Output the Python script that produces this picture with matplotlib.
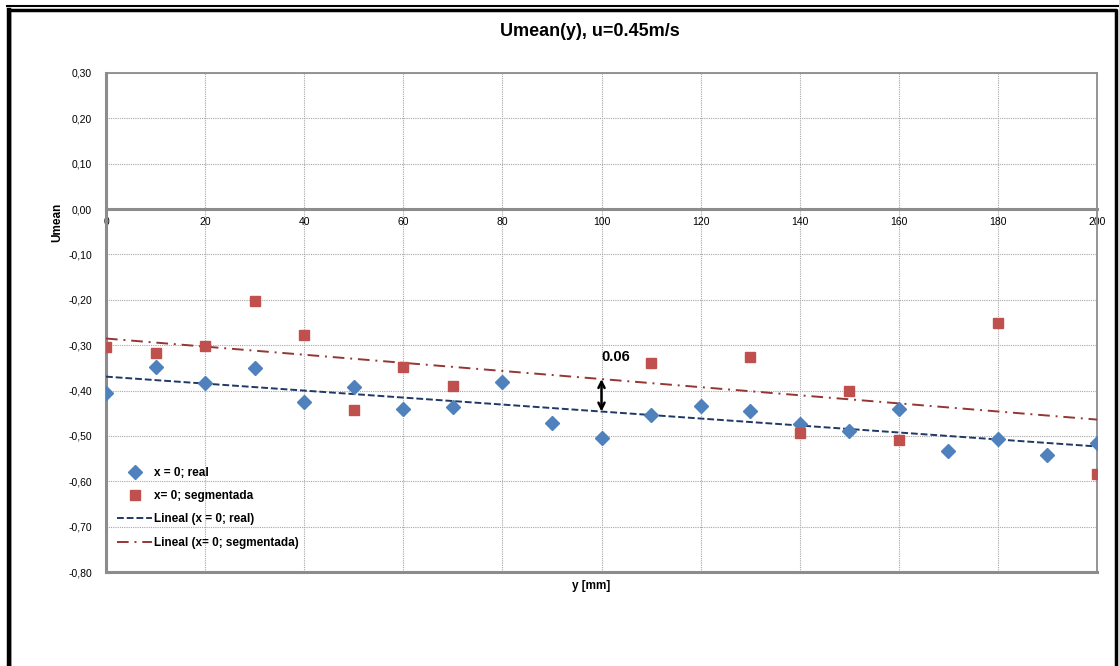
import numpy as np
import matplotlib
matplotlib.use("Agg")
import matplotlib.pyplot as plt
from matplotlib.ticker import FuncFormatter, MultipleLocator
from matplotlib.lines import Line2D

plt.rcParams['font.family'] = ['Liberation Sans Narrow', 'Liberation Sans', 'DejaVu Sans']

# datos
x_real = [0, 10, 20, 30, 40, 50, 60, 70, 80, 90, 100, 110, 120, 130, 140, 150, 160, 170, 180, 190, 200]
u_real = [-0.405, -0.349, -0.384, -0.351, -0.426, -0.392, -0.440, -0.436, -0.382, -0.471, -0.504,
          -0.453, -0.433, -0.444, -0.473, -0.490, -0.440, -0.534, -0.506, -0.543, -0.516]
x_seg = [0, 10, 20, 30, 40, 50, 60, 70, 110, 130, 140, 150, 160, 180, 200]
u_seg = [-0.305, -0.317, -0.301, -0.203, -0.278, -0.442, -0.347, -0.390, -0.339, -0.327,
         -0.494, -0.401, -0.508, -0.251, -0.583]
x_flecha = 100
texto_flecha = "0.06"

W, H = 1119, 666
fig = plt.figure(figsize=(W / 100, H / 100), dpi=100)
ax = fig.add_axes([106 / W, 1 - 572 / H, (1097 - 106) / W, (572 - 73) / H])

# tendencias lineales (como Excel)
xx = np.array([0, 200])
p_real = np.polyfit(x_real, u_real, 1)
p_seg = np.polyfit(x_seg, u_seg, 1)

ax.plot(x_real, u_real, 'D', color='#4F81BD', ms=6.8, mec='#4F81BD', label='x = 0; real', zorder=4)
ax.plot(x_seg, u_seg, 's', color='#C0504D', ms=7.2, mec='#C0504D', label='x= 0; segmentada', zorder=4)
ax.plot(xx, np.polyval(p_real, xx), '--', color='#1F3864', lw=1.4, dashes=(3.5, 1.5),
        label='Lineal (x = 0; real)', zorder=3)
ax.plot(xx, np.polyval(p_seg, xx), color='#943634', lw=1.4, dashes=(6, 3, 1, 3),
        label='Lineal (x= 0; segmentada)', zorder=3)

y_top = np.polyval(p_seg, x_flecha)
y_bot = np.polyval(p_real, x_flecha)
ax.annotate('', xy=(x_flecha, y_bot), xytext=(x_flecha, y_top),
            arrowprops=dict(arrowstyle='<->', color='black', lw=1.8, mutation_scale=11,
                            shrinkA=0, shrinkB=0), zorder=5)
ax.text(x_flecha, y_top + 0.048, texto_flecha, fontsize=10.5, fontweight='bold',
        ha='left', va='center')

ax.set_xlim(0, 200)
ax.set_ylim(-0.80, 0.30)
ax.xaxis.set_major_locator(MultipleLocator(20))
ax.yaxis.set_major_locator(MultipleLocator(0.10))
ax.yaxis.set_major_formatter(FuncFormatter(lambda v, p: ("%.2f" % v).replace('.', ',')))
ax.grid(True, linestyle=(0, (1, 1)), color='#a6a6a6', lw=0.8)
ax.tick_params(length=0, labelsize=7.5, colors='black')
ax.tick_params(axis='x', pad=6)
ax.tick_params(axis='y', pad=10)

for s in ax.spines.values():
    s.set_color('#8c8c8c')
    s.set_linewidth(1.3)
ax.spines['left'].set_linewidth(2.2)
ax.spines['bottom'].set_position(('data', 0))
ax.spines['bottom'].set_linewidth(2.2)
ax.axhline(-0.80, color='#8c8c8c', lw=2.2, clip_on=False)

fig.text(590 / W, 1 - 32 / H, 'Umean(y), u=0.45m/s', ha='center', va='center',
         fontsize=13, fontweight='bold')
fig.text(591 / W, 1 - 586 / H, 'y [mm]', ha='center', va='center', fontsize=8.5, fontweight='bold')
fig.text(57 / W, 1 - 222 / H, 'Umean', ha='center', va='center', rotation=90,
         fontsize=8.5, fontweight='bold')

leg = ax.legend(loc='upper left', bbox_to_anchor=(117 / W, 1 - 467 / H),
                bbox_transform=fig.transFigure, frameon=False,
                prop={'weight': 'bold', 'size': 8.5}, handlelength=3.0,
                handletextpad=0.15, labelspacing=0.95, borderpad=0, borderaxespad=0)

# marco exterior
fig.add_artist(Line2D([7 / W, 1], [1 - 5.5 / H, 1 - 5.5 / H], color='black', lw=1.5,
                      transform=fig.transFigure))
fig.add_artist(Line2D([9 / W, 9 / W, 1115.5 / W, 1115.5 / W], [0, 1 - 10 / H, 1 - 10 / H, 0],
                      color='black', lw=2.5, transform=fig.transFigure))
fig.add_artist(Line2D([9 / W, 9 / W], [0, 1 - 10 / H], color='black', lw=3.2,
                      transform=fig.transFigure))

fig.savefig('out.png', dpi=100)
